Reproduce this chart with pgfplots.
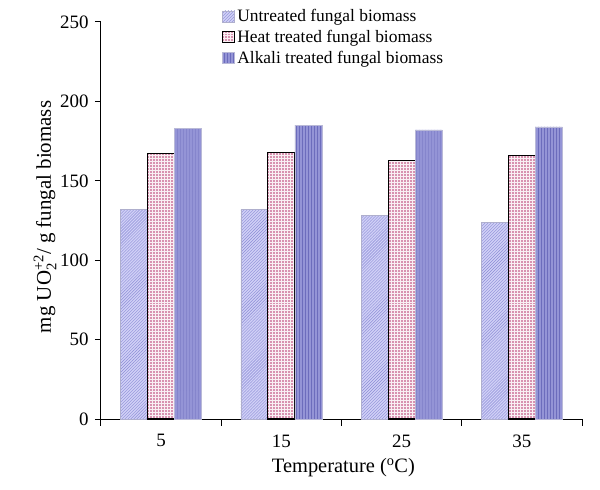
\documentclass[border=0pt]{standalone}
\usepackage{fontspec}
\setmainfont{Liberation Serif}
\usepackage{amsmath}
\usepackage{pgfplots}
\pgfplotsset{compat=1.18}
\usetikzlibrary{patterns,calc}
\definecolor{uFill}{RGB}{208,208,246}
\definecolor{uLine}{RGB}{140,140,214}
\definecolor{uEdge}{RGB}{175,175,205}
\definecolor{hFill}{RGB}{216,146,176}
\definecolor{aFill}{RGB}{148,148,214}
\definecolor{aLine}{RGB}{108,108,188}
\definecolor{aEdge}{RGB}{185,185,215}
\begin{document}
\begin{tikzpicture}
\begin{axis}[
  width=481bp, height=397bp, scale only axis,
  ybar=0pt, bar width=27bp,
  xmin=-0.5, xmax=3.5, ymin=0, ymax=250,
  axis x line*=bottom, axis y line*=left,
  axis line style={-, line width=1bp, black},
  xtick={0,1,2,3}, xticklabels={5,15,25,35},
  major x tick style={draw=none},
  minor xtick={-0.5,0.5,1.5,2.5,3.5},
  minor tick length=6.5bp,
  minor x tick style={line width=1bp, black},
  ytick={0,50,100,150,200,250},
  tick align=outside, major tick length=6bp,
  major y tick style={line width=1bp, black},
  /pgf/number format/assume math mode=true,
  tick label style={font=\fontsize{19}{21}\selectfont},
  yticklabel style={xshift=-3bp},
  xticklabel style={yshift=-6bp},
  xlabel={Temperature (\textsuperscript{o}C)},
  ylabel={mg UO${}_{\text{2}}^{\text{+2}}$/ g fungal biomass},
  every axis x label/.style={at={(axis description cs:0.504,-0.123)}, anchor=center, font=\fontsize{20.5}{24}\selectfont},
  every axis y label/.style={at={(axis description cs:-0.1164,0.509)}, anchor=center, rotate=90, font=\fontsize{21}{24}\selectfont},
  legend style={at={(rel axis cs:0.2516,1.037)}, anchor=north west, draw=none, fill=none,
    font=\fontsize{17.5}{20}\selectfont, inner sep=0pt, row sep=3bp,
    nodes={inner sep=2bp}},
  legend cell align=left,
  mylegend/.style={legend image code/.code={\draw[##1] (0bp,-5.5bp) rectangle (12bp,5.5bp);}},
]
\addplot[fill=uFill, draw=uEdge, line width=0.6bp, postaction={pattern=north east lines, pattern color=uLine}, mylegend]
  coordinates {(0,132) (1,132) (2,128) (3,124)};
\addplot[fill=hFill, draw=black, line width=1.1bp, postaction={pattern=grid, pattern color=white!85!hFill}, mylegend]
  coordinates {(0,167) (1,168) (2,163) (3,166)};
\addplot[fill=aFill, draw=aEdge, line width=0.6bp, postaction={pattern=vertical lines, pattern color=aLine}, mylegend]
  coordinates {(0,183) (1,185) (2,182) (3,184)};
\legend{Untreated fungal biomass, Heat treated fungal biomass, Alkali treated fungal biomass}
\coordinate (sw) at (rel axis cs:0,0);
\coordinate (ne) at (rel axis cs:1,1);
\end{axis}
\pgfresetboundingbox
\path ($(sw)+(-101bp,-71bp)$) rectangle ($(ne)+(18bp,22bp)$);
\end{tikzpicture}
\end{document}
